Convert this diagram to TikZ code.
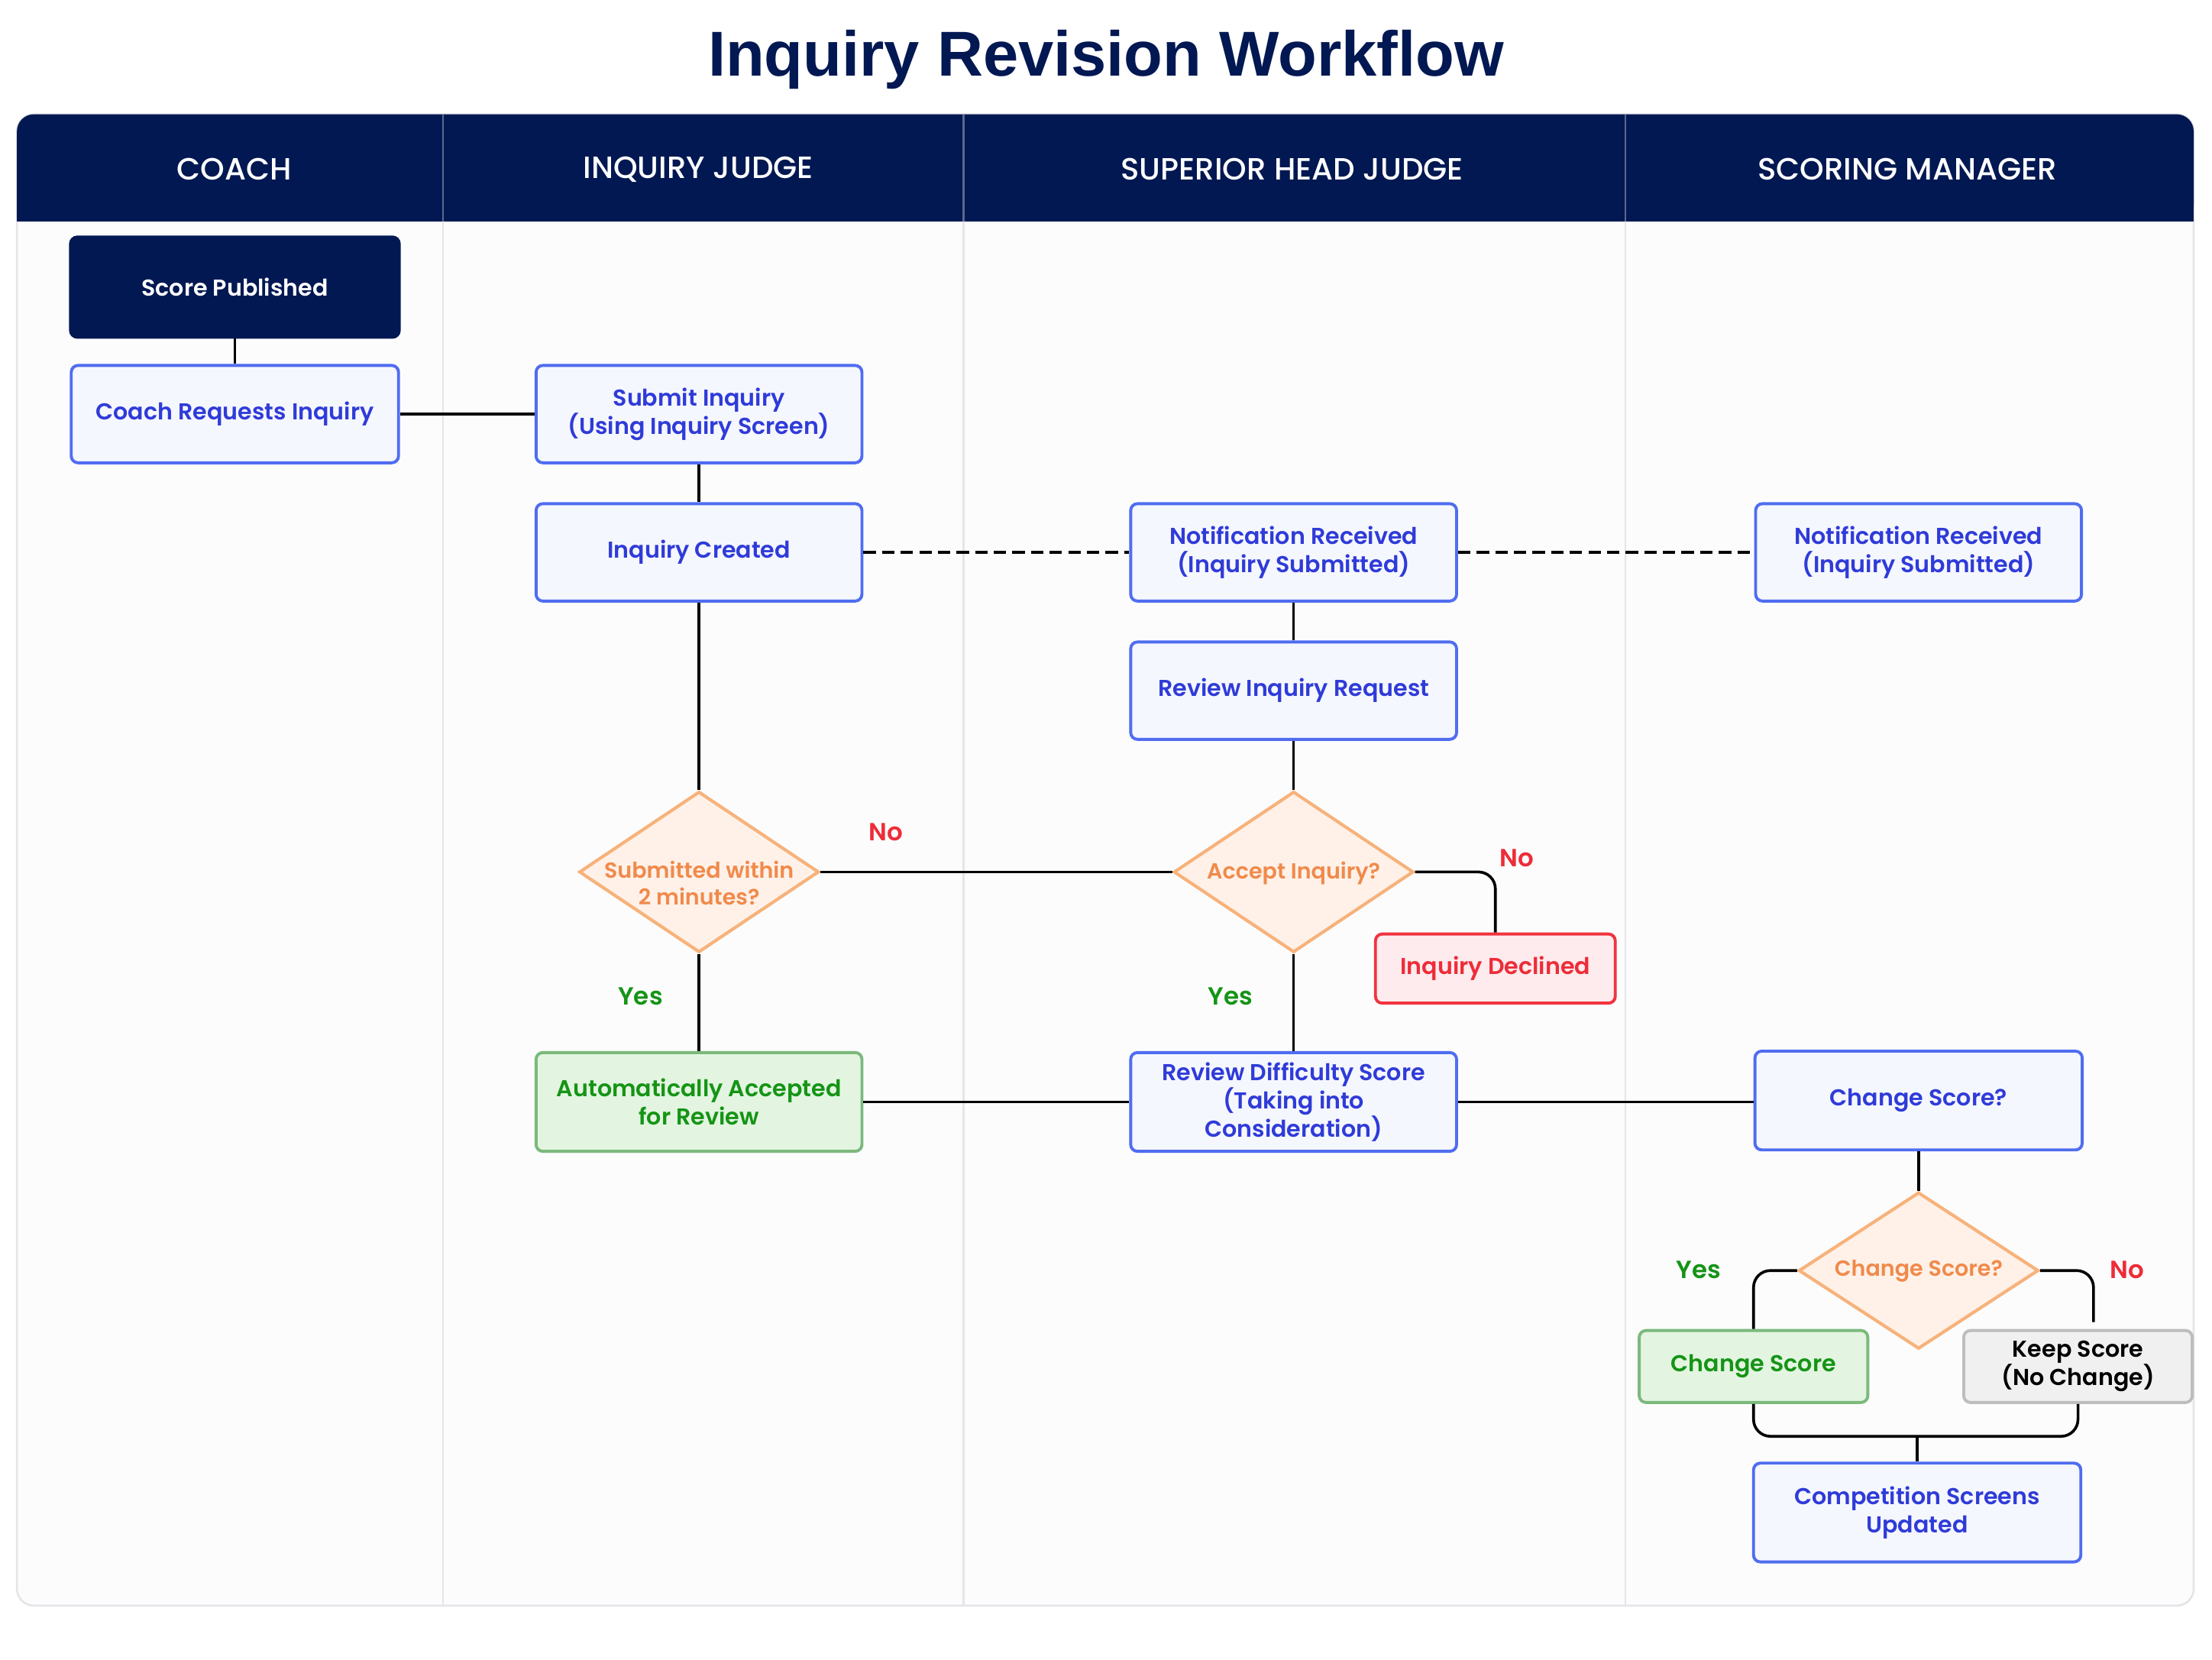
\documentclass[tikz,border=0pt]{standalone}
\usepackage{fontspec}
\setmainfont{Poppins}[UprightFont={* Medium}, BoldFont={* SemiBold}]
\newfontfamily\titlefont{Liberation Sans}
\usetikzlibrary{shapes.geometric,calc}
\definecolor{navy}{HTML}{021852}
\definecolor{boxblue}{HTML}{4F6DF0}
\definecolor{boxfill}{HTML}{F5F7FE}
\definecolor{txtblue}{HTML}{2F3BD8}
\definecolor{diaedge}{HTML}{F7B27A}
\definecolor{diafill}{HTML}{FFF1E8}
\definecolor{diatext}{HTML}{F08A4B}
\definecolor{grnedge}{HTML}{7CB97C}
\definecolor{grnfill}{HTML}{E3F5E1}
\definecolor{grntext}{HTML}{159415}
\definecolor{rededge}{HTML}{F0343F}
\definecolor{redfill}{HTML}{FDEBEE}
\definecolor{redtext}{HTML}{EE2C37}
\definecolor{gryedge}{HTML}{BDBDBD}
\definecolor{gryfill}{HTML}{F0F0F0}
\definecolor{lanebg}{HTML}{FCFCFD}
\definecolor{laneline}{HTML}{E4E5E8}
\tikzset{
  boxbase/.style={line width=1.5pt, rounded corners=1.2mm, align=center,
    inner sep=2pt, font=\fontsize{11.6}{14.2}\selectfont\bfseries},
  bluebox/.style={boxbase, draw=boxblue, fill=boxfill, text=txtblue,
    minimum width=57.75mm, minimum height=17.25mm},
  navybox/.style={boxbase, draw=navy, fill=navy, text=white,
    minimum width=58.25mm, minimum height=17.75mm},
  greenbox/.style={boxbase, draw=grnedge, fill=grnfill, text=grntext},
  redbox/.style={boxbase, draw=rededge, fill=redfill, text=redtext},
  graybox/.style={boxbase, draw=gryedge, fill=gryfill, text=black},
  decision/.style={diamond, draw=diaedge, fill=diafill, line width=1.6pt,
    inner sep=0pt, minimum width=42.5mm, minimum height=28.5mm},
  dtext/.style={text=diatext, align=center, font=\fontsize{11}{13.5}\selectfont\bfseries, inner sep=0pt},
  conn/.style={draw=black, line width=1.4pt},
  dashconn/.style={conn, dash pattern=on 2.2mm off 1.1mm},
  yeslbl/.style={text=grntext, font=\fontsize{12.5}{15}\selectfont\bfseries},
  nolbl/.style={text=redtext, font=\fontsize{12.5}{15}\selectfont\bfseries},
  headlbl/.style={text=white, font=\fontsize{15.5}{18}\selectfont},
}
\begin{document}
\begin{tikzpicture}[x=0.25mm, y=-0.25mm]
\useasboundingbox (0,0) rectangle (1568,1176);
\fill[white] (0,0) rectangle (1568,1176);
% title
\node[text=navy, font=\titlefont\bfseries\fontsize{32}{36}\selectfont] (title) at (784,42) {Inquiry Revision Workflow};
% container
\draw[draw=laneline, line width=1pt, fill=lanebg, rounded corners=3mm] (12,81) rectangle (1555,1138);
\fill[navy, rounded corners=3mm] (12,81) rectangle (1555,157);
\fill[navy] (12,120) rectangle (1555,157);
\foreach \xx in {314,683,1152} {
  \draw[laneline, line width=0.9pt] (\xx,157) -- (\xx,1138);
  \draw[white!35!navy, line width=0.9pt] (\xx,81) -- (\xx,157);
}
\node[headlbl] (h1) at (166,120) {COACH};
\node[headlbl] (h2) at (495,120) {INQUIRY JUDGE};
\node[headlbl] (h3) at (916,120) {SUPERIOR HEAD JUDGE};
\node[headlbl] (h4) at (1352,120) {SCORING MANAGER};
% nodes
\node[navybox] (sp) at (166.5,203.5) {Score Published};
\node[bluebox, minimum width=58mm] (cr) at (166.5,293.5) {Coach Requests Inquiry};
\node[bluebox] (si) at (495.5,293.5) {Submit Inquiry\\(Using Inquiry Screen)};
\node[bluebox] (ic) at (495.5,391.5) {Inquiry Created};
\node[bluebox] (n1) at (917,391.5) {Notification Received\\(Inquiry Submitted)};
\node[bluebox] (n2) at (1360,391.5) {Notification Received\\(Inquiry Submitted)};
\node[bluebox] (rr) at (917,489.5) {Review Inquiry Request};
\node[decision] (d1) at (495.5,618) {};
\node[dtext] (d1t) at (495.5,626) {Submitted within\\2 minutes?};
\node[decision] (d2) at (917,618) {};
\node[dtext] (d2t) at (917,619) {Accept Inquiry?};
\node[redbox, minimum width=42.5mm, minimum height=12.25mm] (dec) at (1060,686.5) {Inquiry Declined};
\node[greenbox, minimum width=57.75mm, minimum height=17.5mm] (aa) at (495.5,781) {Automatically Accepted\\for Review};
\node[bluebox, minimum height=17.5mm] (rd) at (917,781) {Review Difficulty Score\\(Taking into\\Consideration)};
\node[bluebox, minimum width=58mm, minimum height=17.5mm] (csq) at (1360,780) {Change Score?};
\node[decision, minimum height=27.75mm] (d3) at (1360,900.5) {};
\node[dtext] (d3t) at (1360,901) {Change Score?};
\node[greenbox, minimum width=40.5mm, minimum height=12.75mm] (cs) at (1243,968.5) {Change Score};
\node[graybox, minimum width=40.5mm, minimum height=12.75mm] (ks) at (1473,968.5) {Keep Score\\(No Change)};
\node[bluebox, minimum width=58mm, minimum height=17.5mm] (comp) at (1359,1072) {Competition Screens\\Updated};
% labels
\node[nolbl] (no1) at (628,590) {No};
\node[yeslbl] (yes1) at (454,706) {Yes};
\node[nolbl] (no2) at (1075,608) {No};
\node[yeslbl] (yes2) at (872,706) {Yes};
\node[yeslbl] (yes3) at (1204,900) {Yes};
\node[nolbl] (no3) at (1508,900) {No};
% connectors
\draw[conn] (sp.south) -- (cr.north);
\draw[conn] (cr.east) -- (si.west);
\draw[conn] (si.south) -- (ic.north);
\draw[dashconn] (ic.east) -- (n1.west);
\draw[dashconn] (n1.east) -- (n2.west);
\draw[conn] (n1.south) -- (rr.north);
\draw[conn] (ic.south) -- (d1.north);
\draw[conn] (rr.south) -- (d2.north);
\draw[conn] (d1.east) -- (d2.west);
\draw[conn, rounded corners=3mm] (d2.east) -| (dec.north);
\draw[conn] (d1.south) -- (aa.north);
\draw[conn] (d2.south) -- (rd.north);
\draw[conn] (aa.east) -- (rd.west);
\draw[conn] (rd.east) -- (rd.east -| csq.west);
\draw[conn] (csq.south) -- (d3.north);
\draw[conn, rounded corners=3mm] (d3.west) -| (cs.north);
\coordinate (ksin) at ($(ks.north)+(11,-5)$);
\draw[conn, rounded corners=3mm] (d3.east) -| (ksin);
\coordinate (merge) at (1359,1018);
\draw[conn, rounded corners=3mm] (cs.south) |- (merge) -| (ks.south);
\draw[conn] (merge) -- (comp.north);
\end{tikzpicture}
\end{document}
